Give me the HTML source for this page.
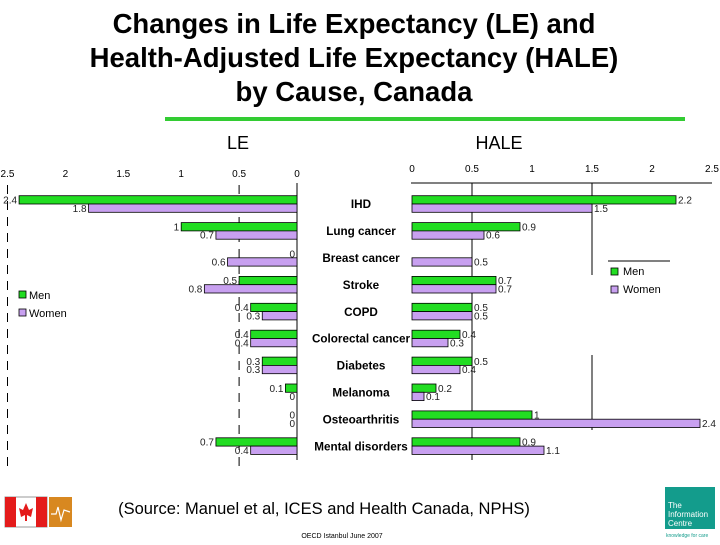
<!DOCTYPE html>
<html><head><meta charset="utf-8"><style>
body{margin:0;background:#fff;width:720px;height:540px;overflow:hidden;font-family:"Liberation Sans",Arial,sans-serif}
</style></head><body>
<svg id="c" width="720" height="540" xmlns="http://www.w3.org/2000/svg" font-family="Liberation Sans, Arial, sans-serif">
<g font-weight="bold" font-size="27.5" text-anchor="middle" fill="#000">
<text x="354" y="33">Changes in Life Expectancy (LE) and</text>
<text x="354" y="67">Health-Adjusted Life Expectancy (HALE)</text>
<text x="354" y="101">by Cause, Canada</text>
</g>
<rect x="165" y="117" width="520" height="4" fill="#33cc33"/>
<text x="238" y="149" font-size="18" text-anchor="middle">LE</text>
<text x="499" y="149" font-size="18" text-anchor="middle">HALE</text>
<g id="left"></g><g id="right"></g><g id="cats"></g>
<g font-size="11">
<rect x="19" y="291" width="7" height="7" fill="#22dd22" stroke="#000" stroke-width="0.8"/><text x="29" y="299">Men</text>
<rect x="19" y="309" width="7" height="7" fill="#c8a0f0" stroke="#000" stroke-width="0.8"/><text x="29" y="317">Women</text>
</g>
<g font-size="11">
<line x1="608" y1="261" x2="670" y2="261" stroke="#000"/>
<rect x="611" y="268" width="7" height="7" fill="#22dd22" stroke="#000" stroke-width="0.8"/><text x="623" y="275">Men</text>
<rect x="611" y="286" width="7" height="7" fill="#c8a0f0" stroke="#000" stroke-width="0.8"/><text x="623" y="293">Women</text>
</g>
<g>
<rect x="5" y="497" width="42" height="30" fill="#fff" stroke="#999"/>
<rect x="5" y="497" width="11" height="30" fill="#e41b1b"/><rect x="36" y="497" width="11" height="30" fill="#e41b1b"/>
<path d="M26 503 L29 510 L33 508 L31 517 L27 515 L27 521 L25 521 L25 515 L21 517 L19 508 L23 510 Z" fill="#e41b1b"/>
</g>
<g>
<rect x="49" y="497" width="23" height="30" fill="#d88820"/><polyline points="51,514 56,514 58,507 61,520 64,510 70,512" fill="none" stroke="#fff" stroke-width="1.2"/>
</g>
<text x="324" y="514" font-size="16.5" text-anchor="middle">(Source:  Manuel et al, ICES and Health Canada, NPHS)</text>
<text x="342" y="538" font-size="7" text-anchor="middle">OECD Istanbul June 2007</text>
<g>
<rect x="665" y="487" width="50" height="42" fill="#139c8c"/>
<text x="668" y="508" font-size="8" fill="#fff">The</text><text x="668" y="517" font-size="8" fill="#fff">Information</text><text x="668" y="526" font-size="8" fill="#fff">Centre</text>
<text x="666" y="537" font-size="5" fill="#139c8c">knowledge for care</text>
</g>
</svg>
<script>
const categories=["IHD","Lung cancer","Breast cancer","Stroke","COPD","Colorectal cancer","Diabetes","Melanoma","Osteoarthritis","Mental disorders"];
const leMen=[2.4,1,0,0.5,0.4,0.4,0.3,0.1,0,0.7];
const leWomen=[1.8,0.7,0.6,0.8,0.3,0.4,0.3,0,0,0.4];
const haleMen=[2.2,0.9,null,0.7,0.5,0.4,0.5,0.2,1,0.9];
const haleWomen=[1.5,0.6,0.5,0.7,0.5,0.3,0.4,0.1,2.4,1.1];
const ticks=[0,0.5,1,1.5,2,2.5];
const NS="http://www.w3.org/2000/svg";
const lx=v=>297-v*115.8, rx=v=>412+v*120;
const rowY=i=>195.7+i*26.9, BH=8.3;
function mk(p,t,a){const e=document.createElementNS(NS,t);for(const k in a)e.setAttribute(k,a[k]);p.appendChild(e);return e;}
const L=document.getElementById('left'),R=document.getElementById('right'),C=document.getElementById('cats');
ticks.forEach(t=>{
 let e=mk(L,'text',{x:lx(t),y:177,'font-size':10,'text-anchor':'middle'});e.textContent=t;
 
 
 e=mk(R,'text',{x:rx(t),y:172,'font-size':10,'text-anchor':'middle'});e.textContent=t;
 
 
});
[2.5,0.5].forEach(t=>{const e=mk(L,'line',{x1:lx(t),y1:185,x2:lx(t),y2:468,stroke:'#000','stroke-dasharray':'9,7'});
 
 });
let ax=mk(L,'line',{x1:297,y1:183,x2:297,y2:460,stroke:'#000'});


ax=mk(R,'line',{x1:411,y1:183,x2:712,y2:183,stroke:'#000'});


[[0.5,183,460],[1.5,183,275],[1.5,355,430]].forEach(g=>{const e=mk(R,'line',{x1:rx(g[0]),y1:g[1],x2:rx(g[0]),y2:g[2],stroke:'#000'});
 
 });
categories.forEach((c,i)=>{
 const y=rowY(i);
 let t=mk(C,'text',{x:361,y:y+12.5,'font-size':11.7,'font-weight':'bold','text-anchor':'middle'});t.textContent=c;
 
 
 [[leMen[i],'#22dd22',y,'le-bar-men'],[leWomen[i],'#c8a0f0',y+BH,'le-bar-women']].forEach(d=>{
  if(d[0]==null)return;
  const b=mk(L,'rect',{x:lx(d[0]),y:d[2],width:d[0]*115.8,height:BH,fill:d[1],stroke:'#000','stroke-width':0.8});
  
  
  const v=mk(L,'text',{x:lx(d[0])-2,y:d[2]+BH-0.5,'font-size':10,'text-anchor':'end',fill:'#222'});v.textContent=d[0];
  
  
 });
 [[haleMen[i],'#22dd22',y,'hale-bar-men'],[haleWomen[i],'#c8a0f0',y+BH,'hale-bar-women']].forEach(d=>{
  if(d[0]==null)return;
  const b=mk(R,'rect',{x:412,y:d[2],width:d[0]*120,height:BH,fill:d[1],stroke:'#000','stroke-width':0.8});
  
  
  const v=mk(R,'text',{x:rx(d[0])+2,y:d[2]+BH-0.5,'font-size':10,fill:'#222'});v.textContent=d[0];
  
  
 });
});
</script>
</body></html>
